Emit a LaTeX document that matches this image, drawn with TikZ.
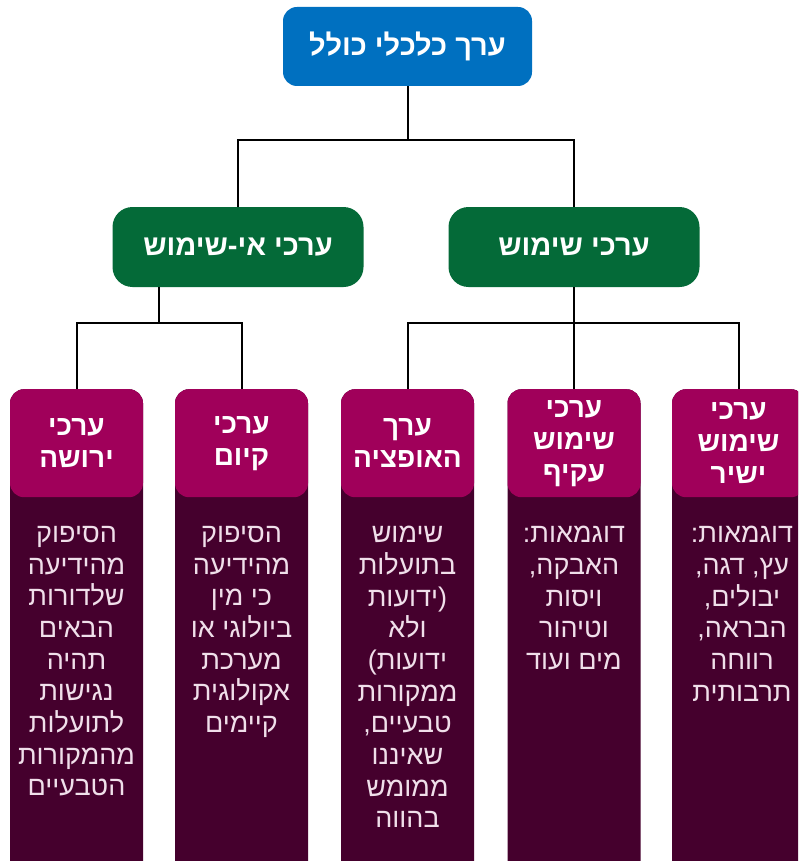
\documentclass[tikz,border=0pt]{standalone}
\usepackage{fontspec}
\setmainfont{Liberation Sans}
\newfontfamily\hebfont[Script=Hebrew]{Liberation Sans}
\TeXXeTstate=1
\definecolor{topblue}{HTML}{0070C0}
\definecolor{usegreen}{HTML}{046A38}
\definecolor{headmag}{HTML}{A0005A}
\definecolor{bodyplum}{HTML}{45002D}
\definecolor{bodytext}{HTML}{F0DFEA}
\newcommand{\rl}[1]{\beginR #1\endR}
\begin{document}
\begin{tikzpicture}[x=1pt,y=-1pt,
  conn/.style={line width=2pt},
  topbox/.style={fill=topblue, rounded corners=14pt, minimum width=249pt, minimum height=79pt, text=white, font=\hebfont\bfseries\fontsize{29}{34}\selectfont},
  groupbox/.style={fill=usegreen, rounded corners=20pt, minimum width=251pt, minimum height=80pt, text=white, font=\hebfont\bfseries\fontsize{29}{34}\selectfont},
  colbody/.style={fill=bodyplum, rounded corners=14pt, minimum width=133pt, minimum height=490pt, anchor=north, inner sep=0pt},
  colhead/.style={fill=headmag, rounded corners=14pt, minimum width=133pt, minimum height=108pt, anchor=north, text=white, align=center, inner sep=0pt, font=\hebfont\bfseries\fontsize{28}{32}\selectfont},
  coltext/.style={anchor=north, text=bodytext, align=center, inner sep=0pt, font=\hebfont\fontsize{27}{31.7}\selectfont}]
\clip (0,0) rectangle (798,861);
% top and group boxes
\node[topbox] (total) at (407.5,46.5) {\rl{ערך כלכלי כולל}};
\node[groupbox] (nonuse) at (238,247) {\rl{ערכי אי-שימוש}};
\node[groupbox] (use) at (574,247) {\rl{ערכי שימוש}};
% columns
\node[colbody] (bequestbody) at (76.5,389) {};
\node[colhead] (bequest) at (76.5,389) {\rl{ערכי}\\\rl{ירושה}};
\node[coltext] (bequesttext) at (76.5,526) {\rl{הסיפוק}\\\rl{מהידיעה}\\\rl{שלדורות}\\\rl{הבאים}\\\rl{תהיה}\\\rl{נגישות}\\\rl{לתועלות}\\\rl{מהמקורות}\\\rl{הטבעיים}};
\node[colbody] (existencebody) at (241.5,389) {};
\node[colhead] (existence) at (241.5,389) {\rl{ערכי}\\\rl{קיום}};
\node[coltext] (existencetext) at (241.5,526) {\rl{הסיפוק}\\\rl{מהידיעה}\\\rl{כי מין}\\\rl{ביולוגי או}\\\rl{מערכת}\\\rl{אקולוגית}\\\rl{קיימים}};
\node[colbody] (optionbody) at (407.5,389) {};
\node[colhead] (option) at (407.5,389) {\rl{ערך}\\\rl{האופציה}};
\node[coltext] (optiontext) at (407.5,526) {\rl{שימוש}\\\rl{בתועלות}\\\rl{(ידועות}\\\rl{ולא}\\\rl{ידועות)}\\\rl{ממקורות}\\\rl{טבעיים,}\\\rl{שאיננו}\\\rl{ממומש}\\\rl{בהווה}};
\node[colbody] (indirectbody) at (574,389) {};
\node[colhead] (indirect) at (574,389) {\rl{ערכי}\\\rl{שימוש}\\\rl{עקיף}};
\node[coltext] (indirecttext) at (574,526) {\rl{דוגמאות:}\\\rl{האבקה,}\\\rl{ויסות}\\\rl{וטיהור}\\\rl{מים ועוד}};
\node[colbody] (directbody) at (738.5,389) {};
\node[colhead] (direct) at (738.5,389) {\rl{ערכי}\\\rl{שימוש}\\\rl{ישיר}};
\node[coltext] (directtext) at (742,526) {\rl{דוגמאות:}\\\rl{עץ, דגה,}\\\rl{יבולים,}\\\rl{הבראה,}\\\rl{רווחה}\\\rl{תרבותית}};
% connectors
\coordinate (nonusefoot) at (159,287);
\draw[conn] (total.south) -- ++(0,54) -| (nonuse.north);
\draw[conn] (total.south) -- ++(0,54) -| (use.north);
\draw[conn] (nonusefoot) -- ++(0,36) -| (bequest.north);
\draw[conn] (nonusefoot) -- ++(0,36) -| (existence.north);
\draw[conn] (use.south) -- ++(0,36) -| (option.north);
\draw[conn] (use.south) -- ++(0,36) -| (direct.north);
\draw[conn] (use.south) -- (indirect.north);
\end{tikzpicture}
\end{document}
